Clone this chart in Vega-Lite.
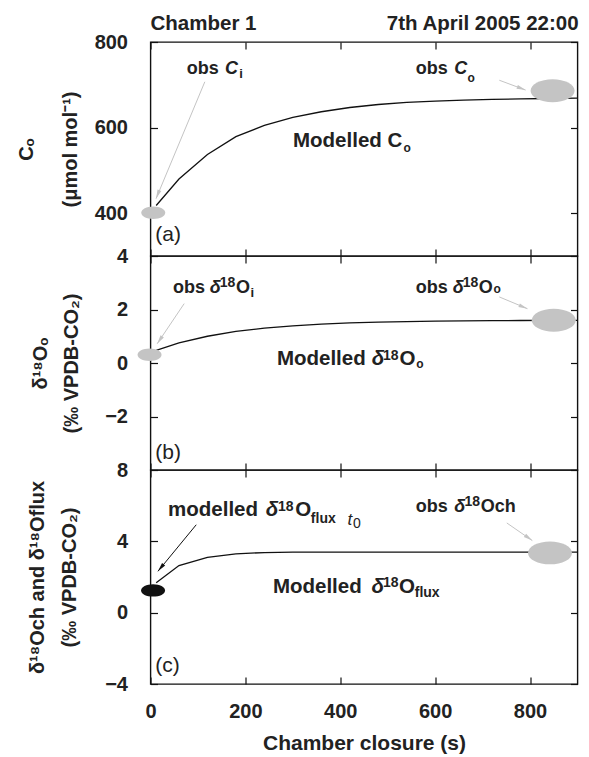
{
"$schema": "https://vega.github.io/schema/vega-lite/v6.json",
"background": "white",
"padding": {"left": 14.5, "top": 13, "right": 5, "bottom": 0},
"bounds": "flush",
"spacing": 0,
"config": {
  "view": {"stroke": "#111", "strokeWidth": 1.4},
  "axis": {"domain": false, "grid": false, "tickSize": -7, "tickColor": "#111", "tickWidth": 1.2,
    "labelFont": "Liberation Sans", "labelFontWeight": "bold", "labelFontSize": 20, "labelColor": "#222",
    "titleFont": "Liberation Sans", "titleFontWeight": "bold", "titleFontSize": 20, "titleColor": "#222",
    "labelOverlap": false, "labelFlush": false, "labelPadding": 30}
},
"vconcat": [
{
  "width": 427, "height": 214,
  "resolve": {"axis": {"x": "independent", "y": "independent"}, "scale": {"size": "independent"}},
  "encoding": {
    "x": {"field": "x", "type": "quantitative", "scale": {"domain": [0, 900], "nice": false}, "axis": null},
    "y": {"field": "y", "type": "quantitative", "scale": {"domain": [300, 800], "nice": false}, "axis": null}
  },
  "layer": [
    {"data": {"values": [{"x":12,"y":418},{"x":60,"y":480},{"x":120,"y":537},{"x":180,"y":579},{"x":240,"y":605},{"x":300,"y":624},{"x":360,"y":637},{"x":420,"y":647},{"x":480,"y":654},{"x":540,"y":659},{"x":600,"y":662},{"x":660,"y":664},{"x":720,"y":666},{"x":780,"y":667},{"x":840,"y":668},{"x":900,"y":669}]},
     "mark": {"type": "line", "color": "#111", "strokeWidth": 1.3},
     "encoding": {
       "x": {"field": "x", "type": "quantitative", "scale": {"domain": [0, 900], "nice": false}, "axis": {"orient": "bottom", "values": [0,200,400,600,800], "labels": false, "title": null}},
       "y": {"field": "y", "type": "quantitative", "scale": {"domain": [300, 800], "nice": false}, "axis": {"orient": "left", "values": [400,600,800], "title": ["Cₒ", "(μmol mol⁻¹)"], "titleLineHeight": 44, "titlePadding": 14}}
     }},
    {"data": {"values": [{"x":5.8,"y":401,"kind":"start","k":"obs"},{"x":847.5,"y":686,"kind":"end","k":"obs"}]},
     "mark": {"type": "point", "filled": true, "opacity": 1, "strokeWidth": 0, "shape": "M -1 0 C -1 -0.2872 -0.5523 -0.52 0 -0.52 C 0.5523 -0.52 1 -0.2872 1 0 C 1 0.2872 0.5523 0.52 0 0.52 C -0.5523 0.52 -1 0.2872 -1 0 Z"},
     "encoding": {
       "x": {"field": "x", "type": "quantitative", "scale": {"domain": [0, 900], "nice": false}, "axis": {"orient": "top", "values": [0,200,400,600,800], "labels": false, "title": null}},
       "y": {"field": "y", "type": "quantitative", "scale": {"domain": [300, 800], "nice": false}, "axis": {"orient": "right", "values": [400,600,800], "labels": false, "title": null}},
       "size": {"field": "kind", "type": "ordinal", "scale": {"type": "ordinal", "domain": ["start","end"], "range": [576, 1936]}, "legend": null},
       "color": {"field": "k", "type": "nominal", "scale": {"domain": ["obs","mod"], "range": ["#c4c4c4","#111111"]}, "legend": null}
     }},
    {"data": {"values": [{"id":1,"x":11.7,"y":434,"x2":114.5,"y2":707,"k":"obs"},{"id":2,"x":790.6,"y":687.7,"x2":735.2,"y2":710.7,"k":"obs"}]},
     "mark": {"type": "rule", "strokeWidth": 1},
     "encoding": {"x2": {"field": "x2"}, "y2": {"field": "y2"},
       "color": {"field": "k", "type": "nominal", "scale": {"domain": ["obs","mod"], "range": ["#b0b0b0","#111111"]}, "legend": null}}},
    {"data": {"values": [{"id":1,"x":11.7,"y":434,"k":"obs"}]},
     "mark": {"type": "point", "filled": true, "opacity": 1, "strokeWidth": 0, "size": 81, "angle": 202, "shape": "M 0 0 L 0.45 2 L -0.45 2 Z"},
     "encoding": {"color": {"field": "k", "type": "nominal", "scale": {"domain": ["obs","mod"], "range": ["#b0b0b0","#111111"]}, "legend": null}}},
    {"data": {"values": [{"id":2,"x":790.6,"y":687.7,"k":"obs"}]},
     "mark": {"type": "point", "filled": true, "opacity": 1, "strokeWidth": 0, "size": 81, "angle": 111, "shape": "M 0 0 L 0.45 2 L -0.45 2 Z"},
     "encoding": {"color": {"field": "k", "type": "nominal", "scale": {"domain": ["obs","mod"], "range": ["#b0b0b0","#111111"]}, "legend": null}}},
    {"data": {"values": [
       {"x":76.6,"y":726,"t":"obs","r":"o"},
       {"x":187,"y":717,"t":"i","r":"s"},
       {"x":558.9,"y":726,"t":"obs","r":"o"},
       {"x":668,"y":707,"t":"o","r":"c"},
       {"x":300.3,"y":555.5,"t":"Modelled C","r":"m"},
       {"x":533,"y":544,"t":"o","r":"c"},
       {"x":0,"y":827.7,"t":"Chamber 1","r":"h"},
       {"x":498,"y":827.7,"t":"7th April 2005 22:00","r":"h"}]},
     "mark": {"type": "text", "align": "left", "baseline": "alphabetic", "font": "Liberation Sans", "fontWeight": "bold", "color": "#222"},
     "encoding": {"text": {"field": "t"},
       "size": {"field": "r", "type": "ordinal", "scale": {"type": "ordinal", "domain": ["o","m","p","s","c","h"], "range": [18,20.5,14,13,12,20.5]}, "legend": null}}},
    {"data": {"values": [{"x":157,"y":726,"t":"C","r":"o"},{"x":640,"y":726,"t":"C","r":"o"}]},
     "mark": {"type": "text", "align": "left", "baseline": "alphabetic", "font": "Liberation Sans", "fontWeight": "bold", "fontStyle": "italic", "color": "#222"},
     "encoding": {"text": {"field": "t"},
       "size": {"field": "r", "type": "ordinal", "scale": {"type": "ordinal", "domain": ["o","m"], "range": [18,20.5]}, "legend": null}}},
    {"data": {"values": [{"x":10.2,"y":335,"t":"(a)","r":"l"}]},
     "mark": {"type": "text", "align": "left", "baseline": "alphabetic", "font": "Liberation Sans", "fontSize": 21, "color": "#222"},
     "encoding": {"text": {"field": "t"}}}
  ]
},
{
  "width": 427, "height": 214,
  "resolve": {"axis": {"x": "independent", "y": "independent"}, "scale": {"size": "independent"}},
  "encoding": {
    "x": {"field": "x", "type": "quantitative", "scale": {"domain": [0, 900], "nice": false}, "axis": null},
    "y": {"field": "y", "type": "quantitative", "scale": {"domain": [-4, 4], "nice": false}, "axis": null}
  },
  "layer": [
    {"data": {"values": [{"x":12,"y":0.47},{"x":60,"y":0.75},{"x":120,"y":1.0},{"x":180,"y":1.18},{"x":240,"y":1.3},{"x":300,"y":1.39},{"x":360,"y":1.45},{"x":420,"y":1.5},{"x":480,"y":1.53},{"x":540,"y":1.55},{"x":600,"y":1.565},{"x":660,"y":1.575},{"x":720,"y":1.583},{"x":780,"y":1.588},{"x":840,"y":1.592},{"x":900,"y":1.595}]},
     "mark": {"type": "line", "color": "#111", "strokeWidth": 1.3},
     "encoding": {
       "x": {"field": "x", "type": "quantitative", "scale": {"domain": [0, 900], "nice": false}, "axis": {"orient": "bottom", "values": [0,200,400,600,800], "labels": false, "title": null}},
       "y": {"field": "y", "type": "quantitative", "scale": {"domain": [-4, 4], "nice": false}, "axis": {"orient": "left", "values": [-2,0,2,4], "title": ["δ¹⁸Oₒ", "(‰ VPDB-CO₂)"], "titleLineHeight": 31, "titlePadding": 23}}
     }},
    {"data": {"values": [{"x":-2,"y":0.31,"kind":"start","k":"obs"},{"x":850,"y":1.6,"kind":"end","k":"obs"}]},
     "mark": {"type": "point", "filled": true, "opacity": 1, "strokeWidth": 0, "shape": "M -1 0 C -1 -0.2872 -0.5523 -0.52 0 -0.52 C 0.5523 -0.52 1 -0.2872 1 0 C 1 0.2872 0.5523 0.52 0 0.52 C -0.5523 0.52 -1 0.2872 -1 0 Z"},
     "encoding": {
       "x": {"field": "x", "type": "quantitative", "scale": {"domain": [0, 900], "nice": false}, "axis": {"orient": "top", "values": [0,200,400,600,800], "labels": false, "title": null}},
       "y": {"field": "y", "type": "quantitative", "scale": {"domain": [-4, 4], "nice": false}, "axis": {"orient": "right", "values": [-2,0,2,4], "labels": false, "title": null}},
       "size": {"field": "kind", "type": "ordinal", "scale": {"type": "ordinal", "domain": ["start","end"], "range": [576, 1936]}, "legend": null},
       "color": {"field": "k", "type": "nominal", "scale": {"domain": ["obs","mod"], "range": ["#c4c4c4","#111111"]}, "legend": null}
     }},
    {"data": {"values": [{"id":1,"x":14.1,"y":0.72,"x2":71,"y2":2.22,"k":"obs"},{"id":2,"x":794.5,"y":2.03,"x2":735.2,"y2":2.47,"k":"obs"}]},
     "mark": {"type": "rule", "strokeWidth": 1},
     "encoding": {"x2": {"field": "x2"}, "y2": {"field": "y2"},
       "color": {"field": "k", "type": "nominal", "scale": {"domain": ["obs","mod"], "range": ["#b0b0b0","#111111"]}, "legend": null}}},
    {"data": {"values": [{"id":1,"x":14.1,"y":0.72,"k":"obs"}]},
     "mark": {"type": "point", "filled": true, "opacity": 1, "strokeWidth": 0, "size": 81, "angle": 214, "shape": "M 0 0 L 0.45 2 L -0.45 2 Z"},
     "encoding": {"color": {"field": "k", "type": "nominal", "scale": {"domain": ["obs","mod"], "range": ["#b0b0b0","#111111"]}, "legend": null}}},
    {"data": {"values": [{"id":2,"x":794.5,"y":2.03,"k":"obs"}]},
     "mark": {"type": "point", "filled": true, "opacity": 1, "strokeWidth": 0, "size": 81, "angle": 112.5, "shape": "M 0 0 L 0.45 2 L -0.45 2 Z"},
     "encoding": {"color": {"field": "k", "type": "nominal", "scale": {"domain": ["obs","mod"], "range": ["#b0b0b0","#111111"]}, "legend": null}}},
    {"data": {"values": [
       {"x":47.3,"y":2.63,"t":"obs","r":"o"},
       {"x":146,"y":2.84,"t":"18","r":"p"},
       {"x":180,"y":2.63,"t":"O","r":"o"},
       {"x":211,"y":2.48,"t":"i","r":"s"},
       {"x":558.9,"y":2.63,"t":"obs","r":"o"},
       {"x":658,"y":2.84,"t":"18","r":"p"},
       {"x":692,"y":2.63,"t":"O","r":"o"},
       {"x":723,"y":2.6,"t":"o","r":"c"},
       {"x":266.4,"y":-0.09,"t":"Modelled","r":"m"},
       {"x":490,"y":0.12,"t":"18","r":"p"},
       {"x":525,"y":-0.09,"t":"O","r":"m"},
       {"x":560,"y":-0.2,"t":"o","r":"c"}]},
     "mark": {"type": "text", "align": "left", "baseline": "alphabetic", "font": "Liberation Sans", "fontWeight": "bold", "color": "#222"},
     "encoding": {"text": {"field": "t"},
       "size": {"field": "r", "type": "ordinal", "scale": {"type": "ordinal", "domain": ["o","m","p","s","c","h"], "range": [18,20.5,14,13,12,20.5]}, "legend": null}}},
    {"data": {"values": [{"x":125,"y":2.63,"t":"δ","r":"o"},{"x":637,"y":2.63,"t":"δ","r":"o"},{"x":466.4,"y":-0.09,"t":"δ","r":"m"}]},
     "mark": {"type": "text", "align": "left", "baseline": "alphabetic", "font": "Liberation Sans", "fontWeight": "bold", "fontStyle": "italic", "color": "#222"},
     "encoding": {"text": {"field": "t"},
       "size": {"field": "r", "type": "ordinal", "scale": {"type": "ordinal", "domain": ["o","m"], "range": [18,20.5]}, "legend": null}}},
    {"data": {"values": [{"x":10.2,"y":-3.58,"t":"(b)","r":"l"}]},
     "mark": {"type": "text", "align": "left", "baseline": "alphabetic", "font": "Liberation Sans", "fontSize": 21, "color": "#222"},
     "encoding": {"text": {"field": "t"}}}
  ]
},
{
  "width": 427, "height": 214,
  "resolve": {"axis": {"x": "independent", "y": "independent"}, "scale": {"size": "independent"}},
  "encoding": {
    "x": {"field": "x", "type": "quantitative", "scale": {"domain": [0, 900], "nice": false}, "axis": null},
    "y": {"field": "y", "type": "quantitative", "scale": {"domain": [-4, 8], "nice": false}, "axis": null}
  },
  "layer": [
    {"data": {"values": [{"x":12,"y":1.68},{"x":60,"y":2.64},{"x":120,"y":3.1},{"x":180,"y":3.3},{"x":240,"y":3.37},{"x":300,"y":3.39},{"x":360,"y":3.4},{"x":420,"y":3.4},{"x":480,"y":3.4},{"x":540,"y":3.4},{"x":600,"y":3.4},{"x":660,"y":3.4},{"x":720,"y":3.4},{"x":780,"y":3.4},{"x":840,"y":3.4},{"x":900,"y":3.4}]},
     "mark": {"type": "line", "color": "#111", "strokeWidth": 1.3},
     "encoding": {
       "x": {"field": "x", "type": "quantitative", "scale": {"domain": [0, 900], "nice": false}, "axis": {"orient": "bottom", "values": [0,200,400,600,800], "title": "Chamber closure (s)", "labelPadding": 24, "titlePadding": 11, "titleFontSize": 21}},
       "y": {"field": "y", "type": "quantitative", "scale": {"domain": [-4, 8], "nice": false}, "axis": {"orient": "left", "values": [-4,0,4,8], "title": ["δ¹⁸Och and δ¹⁸Oflux", "(‰ VPDB-CO₂)"], "titleLineHeight": 32, "titlePadding": 25}}
     }},
    {"data": {"values": [{"x":5.4,"y":1.25,"kind":"start","k":"mod"},{"x":842,"y":3.35,"kind":"end","k":"obs"}]},
     "mark": {"type": "point", "filled": true, "opacity": 1, "strokeWidth": 0, "shape": "M -1 0 C -1 -0.2872 -0.5523 -0.52 0 -0.52 C 0.5523 -0.52 1 -0.2872 1 0 C 1 0.2872 0.5523 0.52 0 0.52 C -0.5523 0.52 -1 0.2872 -1 0 Z"},
     "encoding": {
       "x": {"field": "x", "type": "quantitative", "scale": {"domain": [0, 900], "nice": false}, "axis": {"orient": "top", "values": [0,200,400,600,800], "labels": false, "title": null}},
       "y": {"field": "y", "type": "quantitative", "scale": {"domain": [-4, 8], "nice": false}, "axis": {"orient": "right", "values": [-4,0,4,8], "labels": false, "title": null}},
       "size": {"field": "kind", "type": "ordinal", "scale": {"type": "ordinal", "domain": ["start","end"], "range": [576, 1936]}, "legend": null},
       "color": {"field": "k", "type": "nominal", "scale": {"domain": ["obs","mod"], "range": ["#c4c4c4","#111111"]}, "legend": null}
     }},
    {"data": {"values": [{"id":1,"x":15.7,"y":2.32,"x2":96.4,"y2":4.93,"k":"mod"},{"id":2,"x":804.8,"y":4.04,"x2":751,"y2":5.03,"k":"obs"}]},
     "mark": {"type": "rule", "strokeWidth": 1},
     "encoding": {"x2": {"field": "x2"}, "y2": {"field": "y2"},
       "color": {"field": "k", "type": "nominal", "scale": {"domain": ["obs","mod"], "range": ["#b0b0b0","#111111"]}, "legend": null}}},
    {"data": {"values": [{"id":1,"x":15.7,"y":2.32,"k":"mod"}]},
     "mark": {"type": "point", "filled": true, "opacity": 1, "strokeWidth": 0, "size": 81, "angle": 219, "shape": "M 0 0 L 0.45 2 L -0.45 2 Z"},
     "encoding": {"color": {"field": "k", "type": "nominal", "scale": {"domain": ["obs","mod"], "range": ["#b0b0b0","#111111"]}, "legend": null}}},
    {"data": {"values": [{"id":2,"x":804.8,"y":4.04,"k":"obs"}]},
     "mark": {"type": "point", "filled": true, "opacity": 1, "strokeWidth": 0, "size": 81, "angle": 125, "shape": "M 0 0 L 0.45 2 L -0.45 2 Z"},
     "encoding": {"color": {"field": "k", "type": "nominal", "scale": {"domain": ["obs","mod"], "range": ["#b0b0b0","#111111"]}, "legend": null}}},
    {"data": {"values": [
       {"x":37,"y":5.4,"t":"modelled","r":"m"},
       {"x":268.7,"y":5.72,"t":"18","r":"p"},
       {"x":305,"y":5.4,"t":"O","r":"m"},
       {"x":338,"y":5.03,"t":"flux","r":"s"},
       {"x":558.9,"y":5.64,"t":"obs","r":"o"},
       {"x":662,"y":5.96,"t":"18","r":"p"},
       {"x":696,"y":5.64,"t":"Och","r":"o"},
       {"x":258,"y":1.12,"t":"Modelled","r":"m"},
       {"x":490,"y":1.44,"t":"18","r":"p"},
       {"x":524,"y":1.12,"t":"O","r":"m"},
       {"x":557,"y":0.88,"t":"flux","r":"s"}]},
     "mark": {"type": "text", "align": "left", "baseline": "alphabetic", "font": "Liberation Sans", "fontWeight": "bold", "color": "#222"},
     "encoding": {"text": {"field": "t"},
       "size": {"field": "r", "type": "ordinal", "scale": {"type": "ordinal", "domain": ["o","m","p","s","c","h"], "range": [18,20.5,14,14,12,20.5]}, "legend": null}}},
    {"data": {"values": [{"x":243,"y":5.4,"t":"δ","r":"m"},{"x":640,"y":5.64,"t":"δ","r":"o"},{"x":466,"y":1.12,"t":"δ","r":"m"}]},
     "mark": {"type": "text", "align": "left", "baseline": "alphabetic", "font": "Liberation Sans", "fontWeight": "bold", "fontStyle": "italic", "color": "#222"},
     "encoding": {"text": {"field": "t"},
       "size": {"field": "r", "type": "ordinal", "scale": {"type": "ordinal", "domain": ["o","m"], "range": [18,20.5]}, "legend": null}}},
    {"data": {"values": [{"x":10.2,"y":-3.35,"t":"(c)","r":"l"},{"x":427,"y":4.77,"t":"0","r":"s"}]},
     "mark": {"type": "text", "align": "left", "baseline": "alphabetic", "font": "Liberation Sans", "color": "#222"},
     "encoding": {"text": {"field": "t"},
       "size": {"field": "r", "type": "ordinal", "scale": {"type": "ordinal", "domain": ["l","s"], "range": [21,14]}, "legend": null}}},
    {"data": {"values": [{"x":415,"y":4.93,"t":"t"}]},
     "mark": {"type": "text", "align": "left", "baseline": "alphabetic", "font": "Liberation Sans", "fontStyle": "italic", "fontSize": 17, "color": "#222"},
     "encoding": {"text": {"field": "t"}}}
  ]
}
]
}
